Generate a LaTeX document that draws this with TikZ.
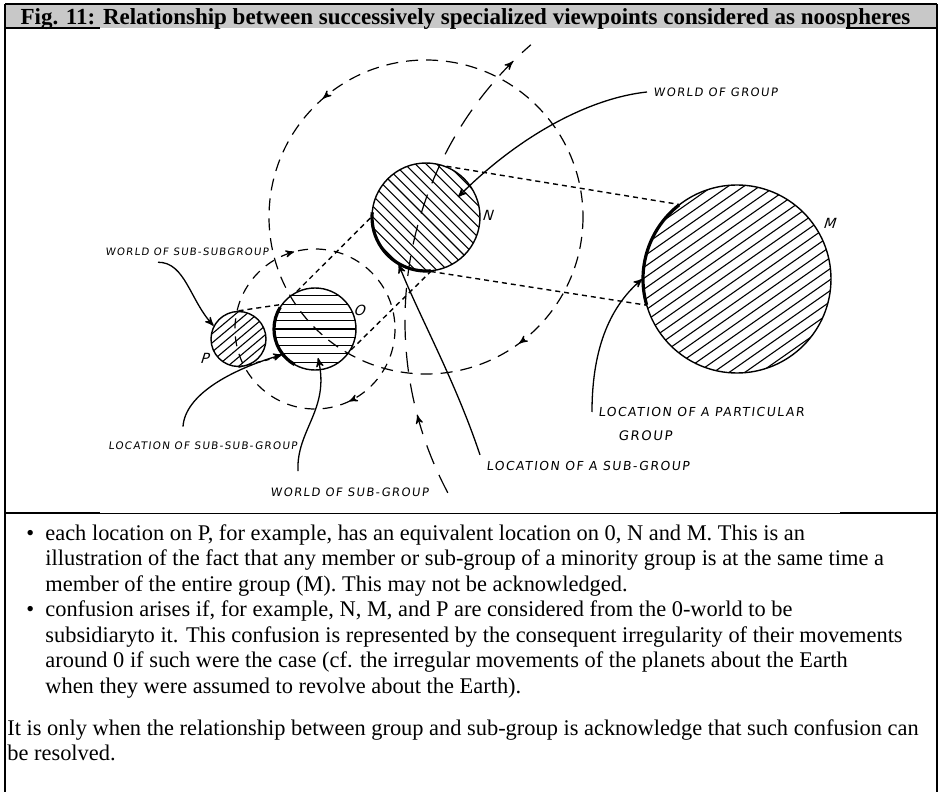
\documentclass[tikz,border=0pt]{standalone}
\usepackage{fontspec}
\setmainfont{Liberation Serif}
\newfontfamily\handfont[LetterSpace=12,FakeSlant=0.12]{DejaVu Sans}
\usetikzlibrary{arrows,decorations.markings}
\definecolor{barfill}{RGB}{200,200,200}
\tikzset{>=stealth',
world/.style={circle,draw,line width=0.7pt,inner sep=0pt,minimum size=#1},
hatch/.style 2 args={path picture={
	\foreach \k in {-14,...,14}
		\draw[line width=0.55pt] (path picture bounding box.center) ++(#1+90:\k*#2) ++(#1:-130) -- ++(#1:260);
	}},
loc/.style={line width=1.6pt},
proj/.style={line width=0.7pt,dash pattern=on 2.5pt off 2pt},
orbit/.style={line width=0.6pt,dash pattern=on #1},
arrowat/.style={postaction={decorate,decoration={markings,mark=at position #1 with {\arrow{>}}}}},
arrowback/.style={postaction={decorate,decoration={markings,mark=at position #1 with {\arrowreversed{>}}}}},
ptr/.style={->,line width=0.65pt},
hand/.style={font=\handfont\fontsize{#1}{7}\selectfont,inner sep=3pt,anchor=west},
hand/.default=5.8,
tag/.style={font=\handfont\itshape\fontsize{7}{8}\selectfont,inner sep=0pt},
txt/.style={anchor=base west,inner sep=0pt,font=\fontsize{11.2}{13}\selectfont},
}

\begin{document}
\begin{tikzpicture}[x=0.5pt,y=-0.5pt]
	\useasboundingbox (0,0) rectangle (939,792);

	% table frame
	\fill[barfill] (5,4) rectangle (937,28);
	\draw[line width=0.8pt] (5,4) -- (937,4) (5,4) -- (5,792) (937,4) -- (937,792);
	\draw[line width=0.5pt] (5,513) -- (937,513);
	\draw[line width=1pt] (5,28) -- (100,28) (846,28) -- (937,28) (5,513) -- (100,513) (840,513) -- (937,513);
	\node[font=\bfseries\fontsize{11.5}{13}\selectfont,anchor=base,inner sep=0pt] (title) at (465.5,25)
		{Fig. 11: Relationship between successively specialized viewpoints considered as noospheres};

	% the four worlds
	\node[world=54pt,hatch={45}{7.5}] (N) at (426,217) {};
	\node[world=94pt,hatch={-35}{9}] (M) at (737,279) {};
	\node[world=41pt,hatch={0}{8.3}] (O) at (315,329) {};
	\node[world=27.5pt,hatch={-40}{7}] (P) at (238.5,339) {};
	\node[tag] (tN) at (488,215) {N};
	\node[tag] (tM) at (830,223) {M};
	\node[tag] (tO) at (360,310) {O};
	\node[tag] (tP) at (205,358) {P};

	% locations
	\draw[loc] (N.center) ++(85:54) arc[start angle=85,end angle=185,radius=54];
	\draw[loc] (M.center) ++(164:94) arc[start angle=164,end angle=232,radius=94];
	\draw[loc] (O.center) ++(120:41) arc[start angle=120,end angle=212,radius=41];

	\draw[proj] (P.north) -- (O.144);
	\draw[proj] (P.south) -- (O.220);
	\draw[proj] (O.116) -- (N.west);
	\draw[proj] (O.330) -- (N.275);
	\draw[proj] (N.68) -- (M.128);
	\draw[proj] (N.275) -- (M.196);

	% orbits
	\draw[orbit={6pt off 4pt},arrowat=0.149,arrowback=0.636] (N.center) circle[radius=157];
	\draw[orbit={5pt off 4pt},arrowat=0.18,arrowat=0.708] (O.center) circle[radius=80];
	\draw[orbit={10pt off 6pt},arrowat=0.17,arrowat=0.95] (771,321) ++(152:366) arc[start angle=152,end angle=229,radius=366];

	% labels
	\node[hand] (wGroup) at (647,92) {WORLD OF GROUP};
	\node[hand=6.2] (lGroup) at (592,412) {LOCATION OF A PARTICULAR};
	\node[hand=6.6] (lGroupB) at (612,436) {GROUP};
	\node[hand=6.2] (lSub) at (480,466) {LOCATION OF A SUB-GROUP};
	\node[hand] (wSub) at (264,492) {WORLD OF SUB-GROUP};
	\node[hand=5.2] (lSubSub) at (102,446) {LOCATION OF SUB-SUB-GROUP};
	\node[hand=5.1] (wSubSub) at (99,252) {WORLD OF SUB-SUBGROUP};
	\coordinate (tipN) at (458,197);
	\coordinate (tipO) at (318,358);

	\draw[ptr] (wGroup.west) .. controls (590,98) and (520,135) .. (tipN);
	\draw[ptr] (lGroup.west) .. controls (592,345) and (612,305) .. (M.west);
	\draw[ptr] (lSub.north west) .. controls (455,380) and (420,318) .. (N.240);
	\draw[ptr] ([shift={(17pt,5pt)}]wSub.north west) .. controls (296,430) and (330,410) .. (tipO);
	\draw[ptr] ([shift={(40.5pt,4.5pt)}]lSubSub.north west) .. controls (185,395) and (230,370) .. (O.218);
	\draw[ptr] ([xshift=29.5pt]wSubSub.south west) .. controls (185,262) and (190,300) .. (P.152);

	% text below
	\node[txt] (b1) at (26,540) {\textbullet};
	\node[txt] (t1) at (45,540) {each location on P, for example, has an equivalent location on 0, N and M. This is an};
	\node[txt] (t2) at (45,565.5) {illustration of the fact that any member or sub-group of a minority group is at the same time a};
	\node[txt] (t3) at (45,591) {member of the entire group (M). This may not be acknowledged.};
	\node[txt] (b2) at (26,616.5) {\textbullet};
	\node[txt] (t4) at (45,616.5) {confusion arises if, for example, N, M, and P are considered from the 0-world to be};
	\node[txt] (t5) at (45,642) {subsidiaryto it. This confusion is represented by the consequent irregularity of their movements};
	\node[txt] (t6) at (45,667.5) {around 0 if such were the case (cf. the irregular movements of the planets about the Earth};
	\node[txt] (t7) at (45,693) {when they were assumed to revolve about the Earth).};
	\node[txt] (p1) at (7,735) {It is only when the relationship between group and sub-group is acknowledge that such confusion can};
	\node[txt] (p2) at (7,760.5) {be resolved.};
\end{tikzpicture}
\end{document}
